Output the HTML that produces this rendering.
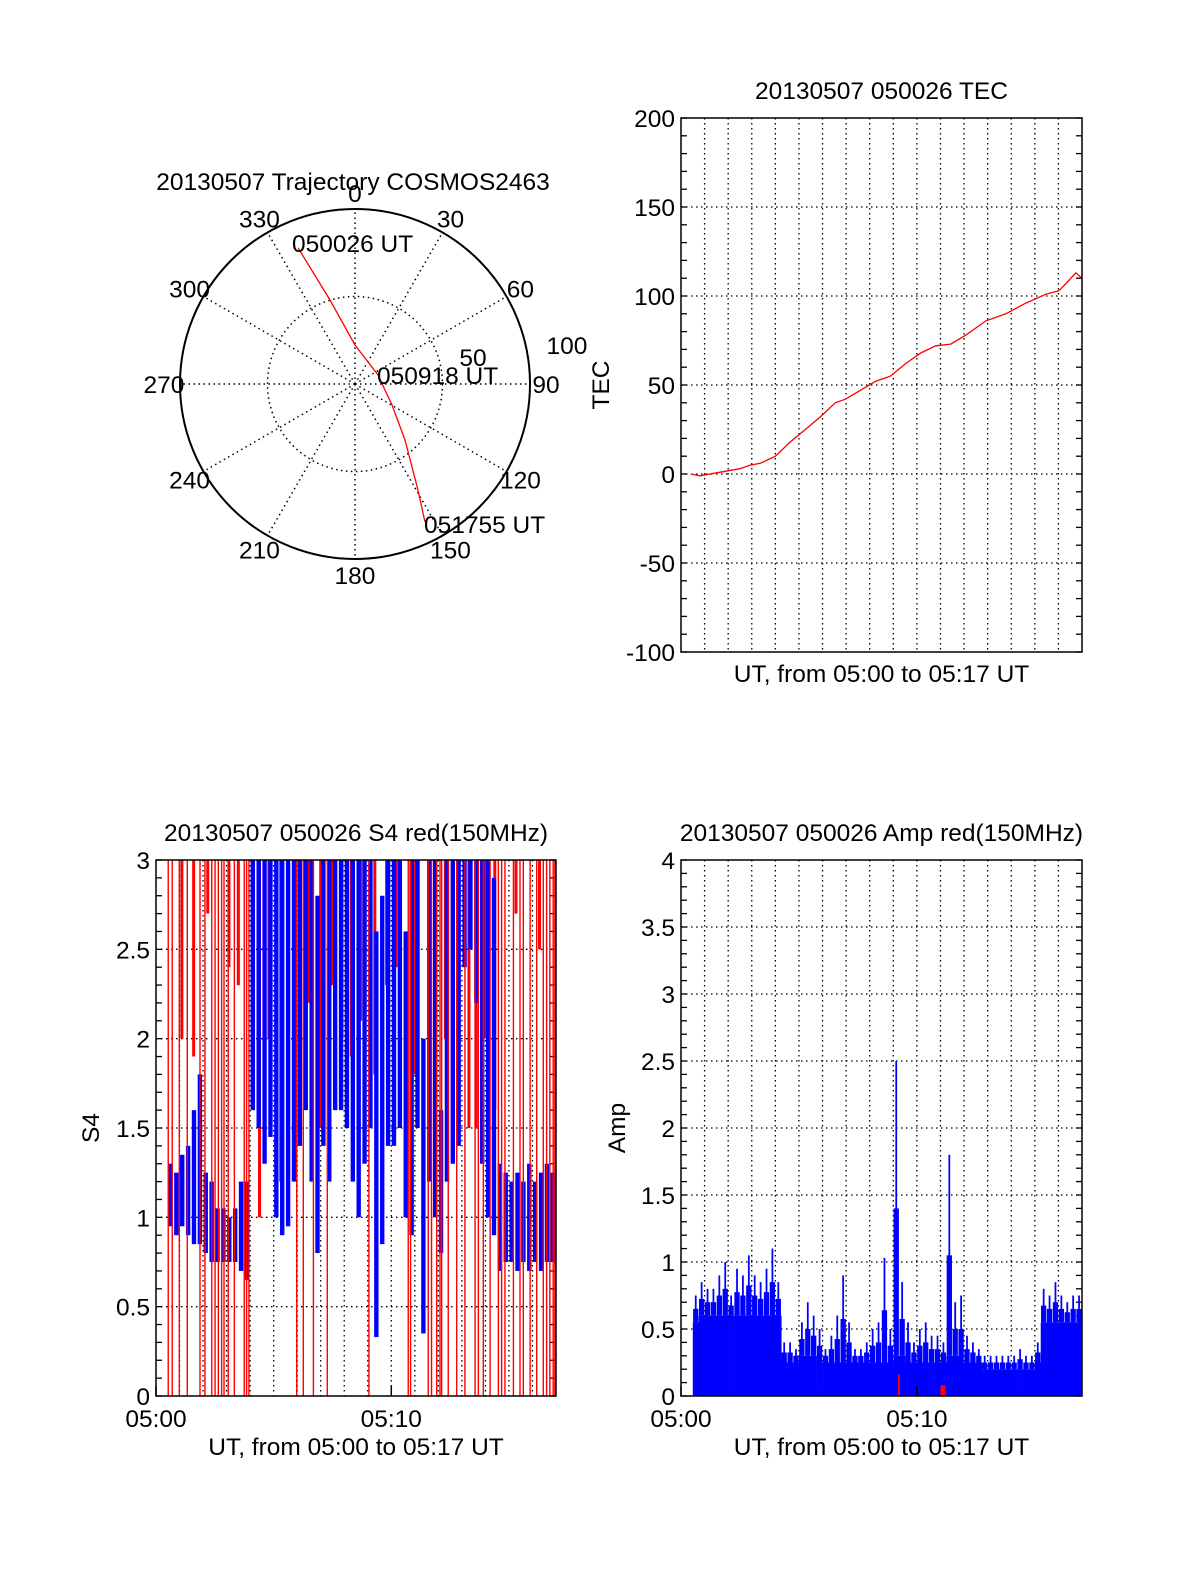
<!DOCTYPE html>
<html><head><meta charset="utf-8"><style>
body{margin:0;background:#fff}
svg{display:block;font-family:"Liberation Sans",sans-serif}
text{font-size:24.5px;fill:#000}
</style></head><body>
<svg id="s" width="1200" height="1575" viewBox="0 0 1200 1575" xmlns="http://www.w3.org/2000/svg"></svg>
<script>
// ---- data ----
const tecTimes=[0.42,0.8,1.66,2.5,2.93,3.36,4.0,4.63,5.27,5.9,6.54,6.97,7.6,8.24,8.88,9.52,10.16,10.8,11.44,12.07,12.92,13.77,14.62,15.47,16.02,16.32,16.74,17.0];
const tecValues=[0,-1,1,3,5,6,10,18,25,32,40,42,47,52,55,62,68,72,73,78,86,90,96,101,103,107,113,110];
const tecTicks=[200,150,100,50,0,-50,-100];
const s4Times=[0.5,0.75,1,1.25,1.5,1.75,2,2.25,2.5,2.75,3,3.25,3.5,3.75,4,4.25,4.5,4.75,5,5.25,5.5,5.75,6,6.25,6.5,6.75,7,7.25,7.5,7.75,8,8.25,8.5,8.75,9,9.25,9.5,9.75,10,10.25,10.5,10.75,11,11.25,11.5,11.75,12,12.25,12.5,12.75,13,13.25,13.5,13.75,14,14.25,14.5,14.75,15,15.25,15.5,15.75,16,16.25,16.5,16.75];
const s4Lo=[.95,.9,.95,.9,.85,.85,.8,.75,.75,.75,.75,.75,.7,.65,1.6,1.5,1.3,1.45,1.0,.9,.95,1.2,1.4,1.6,1.2,.8,1.4,1.2,1.6,1.6,1.5,1.2,1.0,1.3,1.5,.33,.85,1.4,1.4,1.5,1.0,.9,1.5,.35,1.2,1.0,.8,1.2,1.3,1.4,2.4,2.5,2.2,1.3,1.0,.9,.7,.75,.75,.7,.75,.7,.75,.7,.75,.75];
const s4Hi=[1.3,1.25,1.35,1.4,1.6,1.8,1.25,1.2,1.05,1.05,1.0,1.05,1.2,1.2,3,3,3,3,3,3,3,3,3,3,3,2.8,3,3,3,3,3,3,3,3,3,2.6,2.8,3,3,3,2.6,3,3,2.0,3,3,1.6,3,3,3,3,3,3,3,3,2.9,1.3,1.25,1.2,1.25,1.2,1.3,1.2,1.25,1.3,1.25];
const s4RedFull=[0.52,0.69,0.99,1.33,1.87,2.08,2.37,2.51,2.65,2.79,2.89,3.07,3.33,3.75,3.85,3.95,5.98,6.26,6.69,7.28,9.05,10.72,10.82,11.57,11.71,11.93,12.07,12.14,12.42,12.78,13.13,13.56,13.7,13.91,14.2,14.55,14.69,14.83,15.19,15.47,15.61,15.9,16.18,16.46,16.6,16.74,16.88,16.95];
const s4RedTopT=[1.1,1.6,2.2,3.1,3.5,4.4,4.8,5.3,5.6,6.1,6.5,7.0,7.5,7.9,8.3,8.7,9.3,9.8,10.2,11.0,12.3,13.3,13.6,14.0,14.4,15.3,16.3];
const s4RedTopLow=[2.0,1.9,2.7,2.4,2.3,1.0,2.0,1.2,1.5,2.0,2.2,1.5,2.3,2.0,1.9,2.1,1.8,2.3,2.4,1.8,2.0,1.5,1.5,2.0,1.6,2.7,2.5];
const s4Ticks=[3,2.5,2,1.5,1,0.5,0];
const ampTimes=s4Times;
const ampHigh=[.75,.85,.8,.8,.9,1.0,.75,.95,.9,1.05,.9,.85,.95,1.1,.85,.4,.4,.35,.55,.7,.6,.5,.35,.45,.6,.9,.55,.35,.35,.4,.5,.55,1.03,.5,2.5,.85,.55,.4,.5,.55,.45,.45,.4,1.8,.7,.75,.45,.4,.35,.3,.3,.3,.3,.3,.3,.35,.3,.3,.4,.8,.75,.85,.75,.7,.75,.75];
const ampLow=[.55,.6,.6,.6,.6,.6,.6,.6,.6,.6,.6,.6,.6,.6,.6,.25,.25,.25,.3,.3,.3,.25,.25,.25,.25,.25,.25,.25,.25,.25,.25,.25,.25,.25,.3,.3,.25,.25,.25,.25,.25,.25,.25,.3,.3,.25,.25,.25,.25,.2,.2,.2,.2,.2,.2,.2,.2,.2,.25,.55,.55,.55,.55,.55,.55,.55];
const ampTicks=[4,3.5,3,2.5,2,1.5,1,0.5,0];
const azLabels=[0,30,60,90,120,150,180,210,240,270,300,330];
const trajAz=[337.3,343.4,0,68.6,119.6,138.2,149.3,153.1];
const trajR=[84.3,50.1,22.3,14.1,24.3,42.9,70.5,88.4];

const S=document.getElementById('s');const NS='http://www.w3.org/2000/svg';
function mk(tag,at,par,txt){const e=document.createElementNS(NS,tag);for(const k in at)e.setAttribute(k,at[k]);if(txt!==undefined)e.textContent=txt;(par||S).appendChild(e);return e;}

// ---- polar ----
const cx=355,cy=384,R=175;
const pg=mk('g',{});


let t=mk('text',{x:353,y:190,'text-anchor':'middle'},pg,'20130507 Trajectory COSMOS2463');

mk('circle',{cx,cy,r:R,fill:'none',stroke:'#000','stroke-width':2},pg);
mk('circle',{cx,cy,r:R/2,fill:'none',stroke:'#000','stroke-width':1.5,'stroke-dasharray':'1.5 3.5'},pg);
for(const a of azLabels){const rad=a*Math.PI/180;
 mk('line',{x1:cx,y1:cy,x2:cx+R*Math.sin(rad),y2:cy-R*Math.cos(rad),stroke:'#000','stroke-width':1.5,'stroke-dasharray':'1.5 3.5'},pg);
 const lr=R+16;const tx=cx+lr*Math.sin(rad),ty=cy-lr*Math.cos(rad)+9;
 const l=mk('text',{x:tx,y:ty,'text-anchor':'middle'},pg,String(a));
 }
mk('text',{x:567,y:354,'text-anchor':'middle'},pg,'100');
mk('text',{x:473,y:366,'text-anchor':'middle'},pg,'50');
let pd='';trajAz.forEach((a,i)=>{const rad=a*Math.PI/180,r=trajR[i]/100*R;pd+=(i?'L':'M')+(cx+r*Math.sin(rad)).toFixed(1)+' '+(cy-r*Math.cos(rad)).toFixed(1);});
const tr=mk('path',{d:pd,fill:'none',stroke:'#f00','stroke-width':1.3},pg);

mk('text',{x:292,y:252},pg,'050026 UT');
mk('text',{x:377,y:384},pg,'050918 UT');
mk('text',{x:424,y:533},pg,'051755 UT');

// ---- rectangular panels ----
function panel(o){
 const g=mk('g',{});
 
 
 const X=v=>o.x0+(v/17)*(o.x1-o.x0), Y=v=>o.y1-(v-o.ymin)/(o.ymax-o.ymin)*(o.y1-o.y0);
 for(let m=1;m<17;m++)mk('line',{x1:X(m),x2:X(m),y1:o.y0,y2:o.y1,stroke:'#000','stroke-width':1.3,'stroke-dasharray':'1.5 3.5'},g);
 for(const v of o.ticks){const y=Y(v);
  if(v!==o.ymin&&v!==o.ymax)mk('line',{x1:o.x0,x2:o.x1,y1:y,y2:y,stroke:'#000','stroke-width':1.3,'stroke-dasharray':'1.5 3.5'},g);
  const l=mk('text',{x:o.x0-6,y:y+9,'text-anchor':'end'},g,String(v));
  }
 for(let v=o.ymin;v<=o.ymax+1e-9;v+=o.minor){const y=Y(v);
  mk('line',{x1:o.x0,x2:o.x0+6,y1:y,y2:y,stroke:'#000','stroke-width':1.3},g);
  mk('line',{x1:o.x1,x2:o.x1-6,y1:y,y2:y,stroke:'#000','stroke-width':1.3},g);}
 o.draw(g,X,Y);
 mk('rect',{x:o.x0,y:o.y0,width:o.x1-o.x0,height:o.y1-o.y0,fill:'none',stroke:'#000','stroke-width':1.5},g);
 let tt=mk('text',{x:(o.x0+o.x1)/2,y:o.y0-19,'text-anchor':'middle'},g,o.title);
 
 let xl=mk('text',{x:(o.x0+o.x1)/2,y:o.xlabY,'text-anchor':'middle'},g,'UT, from 05:00 to 05:17 UT');
 
 let yl=mk('text',{x:o.ylx,y:(o.y0+o.y1)/2,'text-anchor':'middle',transform:`rotate(-90 ${o.ylx} ${(o.y0+o.y1)/2})`},g,o.ylab);
 
 if(o.xt){[['05:00',0],['05:10',10]].forEach(([s,m])=>{mk('line',{x1:X(m),x2:X(m),y1:o.y1,y2:o.y1-10,stroke:'#000','stroke-width':1.5},g);
  const l=mk('text',{x:X(m),y:o.y1+31,'text-anchor':'middle'},g,s);});}
}
panel({name:'tec-plot',x0:681,x1:1082,y0:118,y1:652,ymin:-100,ymax:200,ticks:tecTicks,minor:10,title:'20130507 050026 TEC',ylab:'TEC',ylx:609,xlabY:682,xt:false,
 draw:(g,X,Y)=>{let d='';tecTimes.forEach((tm,i)=>{d+=(i?'L':'M')+X(tm).toFixed(1)+' '+Y(tecValues[i]).toFixed(1);});
  const p=mk('path',{d,fill:'none',stroke:'#f00','stroke-width':1.3},g);}});
panel({name:'s4-plot',x0:156,x1:556,y0:860,y1:1396,ymin:0,ymax:3,ticks:s4Ticks,minor:0.1,title:'20130507 050026 S4 red(150MHz)',ylab:'S4',ylx:99,xlabY:1455,xt:true,
 draw:(g,X,Y)=>{
  s4RedTopT.forEach((tm,i)=>{const l=mk('line',{x1:X(tm),x2:X(tm),y1:Y(3),y2:Y(s4RedTopLow[i]),stroke:'#f00','stroke-width':3},g);});
  s4Times.forEach((tm,i)=>{const r=mk('rect',{x:X(tm)+0.5,y:Y(s4Hi[i]),width:X(0.25)-X(0)-1.5,height:Y(s4Lo[i])-Y(s4Hi[i]),fill:'#00f'},g);});
  s4RedFull.forEach(tm=>{const l=mk('line',{x1:X(tm),x2:X(tm),y1:Y(3),y2:Y(0),stroke:'#f00','stroke-width':1.4},g);});
 }});
panel({name:'amp-plot',x0:681,x1:1082,y0:860,y1:1396,ymin:0,ymax:4,ticks:ampTicks,minor:0.1,title:'20130507 050026 Amp red(150MHz)',ylab:'Amp',ylx:625,xlabY:1455,xt:true,
 draw:(g,X,Y)=>{
  ampTimes.forEach((tm,i)=>{const w=X(0.25)-X(0);
   const r=mk('rect',{x:X(tm),y:Y(ampLow[i]),width:w+0.3,height:Y(0)-Y(ampLow[i]),fill:'#00f'},g);
   const s=mk('rect',{x:X(tm)+w*0.35,y:Y(ampHigh[i]),width:w*0.3,height:Y(ampLow[i])-Y(ampHigh[i]),fill:'#00f'},g);
   const s2=mk('rect',{x:X(tm)+w*0.05,y:Y((ampHigh[i]+ampLow[i])/2),width:w*0.9,height:Y(ampLow[i])-Y((ampHigh[i]+ampLow[i])/2),fill:'#00f'},g);});
  mk('rect',{x:X(9.2),y:Y(0.16),width:2,height:Y(0)-Y(0.16),fill:'#f00'},g);
  mk('rect',{x:X(11.0),y:Y(0.08),width:5,height:Y(0)-Y(0.08),fill:'#f00'},g);
 }});
</script>
</body></html>
